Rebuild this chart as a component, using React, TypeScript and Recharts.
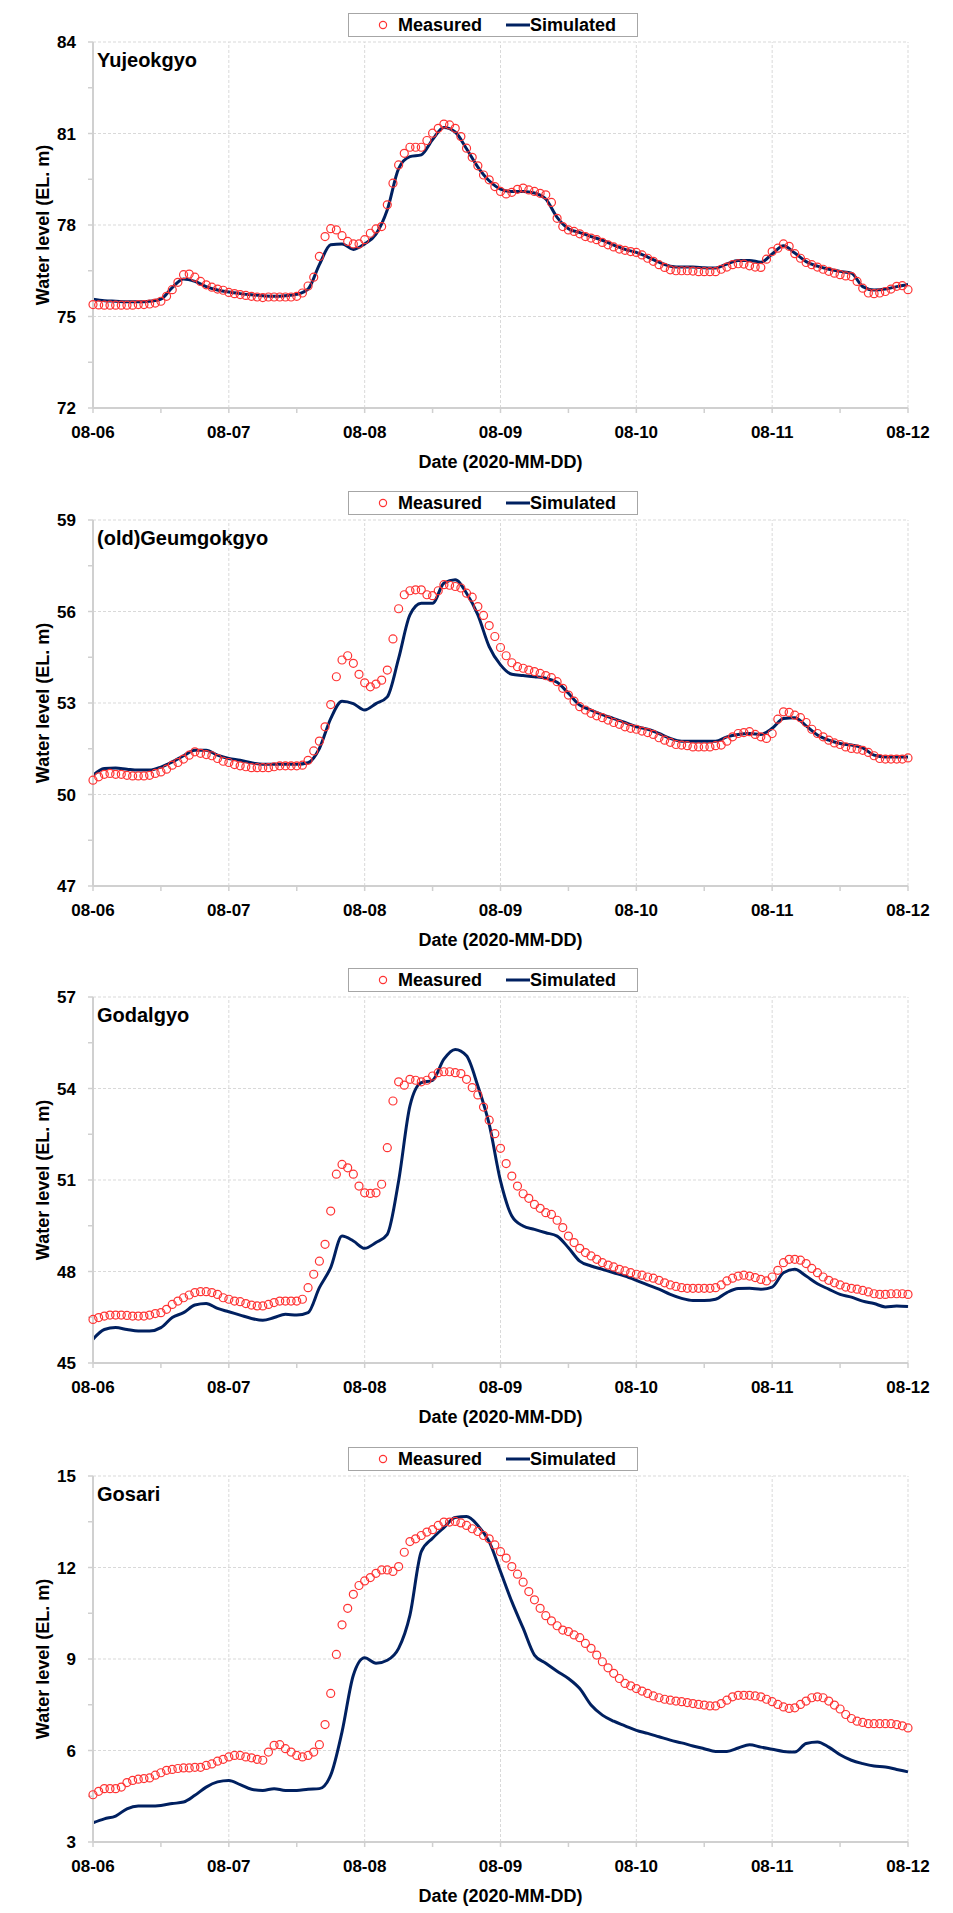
import React from 'react';
import { ComposedChart, Line, XAxis, YAxis, ReferenceLine, Legend, Label } from 'recharts';

// hourly time axis, 0 = 2020-08-06 00:00
const dayLabels = ['08-06', '08-07', '08-08', '08-09', '08-10', '08-11', '08-12'];
const hourTicks = [0, 12, 24, 36, 48, 60, 72, 84, 96, 108, 120, 132, 144];
const dayLines = [24, 48, 72, 96, 120, 144];

// measured: every hour (145 values), simulated: every 2 hours (73 values)
const yujeokgyoMeasured = [
  75.39, 75.38, 75.37, 75.37, 75.37, 75.37, 75.37, 75.37, 75.39, 75.39, 75.41, 75.44,
  75.50, 75.66, 75.88, 76.12, 76.37, 76.39, 76.29, 76.15, 76.04, 75.96, 75.90, 75.86,
  75.79, 75.75, 75.72, 75.69, 75.66, 75.64, 75.62, 75.64, 75.64, 75.64, 75.64, 75.64,
  75.66, 75.77, 76.00, 76.29, 76.97, 77.62, 77.88, 77.84, 77.65, 77.46, 77.38, 77.38,
  77.52, 77.73, 77.87, 77.95, 78.66, 79.37, 79.97, 80.35, 80.55, 80.55, 80.55, 80.77,
  81.01, 81.17, 81.31, 81.28, 81.17, 80.90, 80.52, 80.22, 79.94, 79.64, 79.48, 79.26,
  79.10, 79.02, 79.07, 79.17, 79.21, 79.15, 79.10, 79.04, 78.99, 78.74, 78.22, 77.95,
  77.84, 77.79, 77.71, 77.62, 77.57, 77.52, 77.43, 77.35, 77.28, 77.21, 77.17, 77.13,
  77.10, 77.02, 76.91, 76.81, 76.70, 76.61, 76.53, 76.50, 76.50, 76.50, 76.49, 76.47,
  76.47, 76.47, 76.47, 76.55, 76.62, 76.70, 76.73, 76.72, 76.66, 76.62, 76.61, 76.88,
  77.13, 77.24, 77.38, 77.30, 77.06, 76.91, 76.77, 76.70, 76.62, 76.55, 76.48, 76.42,
  76.37, 76.33, 76.31, 76.15, 75.93, 75.77, 75.75, 75.77, 75.82, 75.90, 75.99, 76.01,
  75.88,
];
const yujeokgyoSimulated = [
  75.57, 75.52, 75.50, 75.48, 75.48, 75.50, 75.57, 75.95, 76.23, 76.15, 75.98, 75.87,
  75.80, 75.75, 75.71, 75.68, 75.66, 75.68, 75.73, 75.90, 76.70, 77.35, 77.38, 77.20,
  77.38, 77.70, 78.50, 79.85, 80.24, 80.30, 80.80, 81.20, 81.05, 80.50, 79.90, 79.45,
  79.18, 79.10, 79.10, 79.05, 78.85, 78.25, 77.88, 77.75, 77.62, 77.50, 77.34, 77.20,
  77.10, 76.95, 76.78, 76.65, 76.62, 76.62, 76.60, 76.59, 76.72, 76.84, 76.84, 76.78,
  77.05, 77.32, 77.08, 76.80, 76.65, 76.55, 76.48, 76.42, 75.98, 75.87, 75.90, 75.98,
  76.05,
];
const yujeokgyoTicks = [72, 73.5, 75, 76.5, 78, 79.5, 81, 82.5, 84];

const geumgokgyoMeasured = [
  50.47, 50.58, 50.66, 50.69, 50.66, 50.66, 50.63, 50.61, 50.61, 50.61, 50.63, 50.69,
  50.74, 50.83, 50.96, 51.05, 51.16, 51.29, 51.40, 51.35, 51.31, 51.27, 51.18, 51.09,
  51.05, 50.98, 50.94, 50.91, 50.88, 50.88, 50.88, 50.88, 50.91, 50.94, 50.94, 50.94,
  50.94, 50.96, 51.12, 51.43, 51.75, 52.22, 52.95, 53.86, 54.41, 54.55, 54.30, 53.94,
  53.66, 53.53, 53.62, 53.75, 54.08, 55.10, 56.09, 56.55, 56.68, 56.71, 56.71, 56.55,
  56.52, 56.68, 56.88, 56.86, 56.82, 56.77, 56.60, 56.47, 56.16, 55.87, 55.54, 55.18,
  54.82, 54.55, 54.32, 54.19, 54.14, 54.08, 54.03, 53.97, 53.90, 53.83, 53.70, 53.48,
  53.26, 53.06, 52.88, 52.77, 52.66, 52.58, 52.52, 52.44, 52.36, 52.30, 52.22, 52.17,
  52.14, 52.08, 52.03, 51.97, 51.86, 51.78, 51.71, 51.64, 51.62, 51.60, 51.56, 51.56,
  51.56, 51.56, 51.60, 51.62, 51.75, 51.89, 52.00, 52.03, 52.06, 51.97, 51.89, 51.84,
  52.00, 52.47, 52.71, 52.69, 52.60, 52.52, 52.36, 52.14, 52.00, 51.89, 51.78, 51.69,
  51.64, 51.56, 51.51, 51.49, 51.45, 51.38, 51.27, 51.18, 51.16, 51.16, 51.16, 51.16,
  51.20,
];
const geumgokgyoSimulated = [
  50.63, 50.85, 50.87, 50.83, 50.80, 50.80, 50.90, 51.07, 51.27, 51.45, 51.45, 51.29,
  51.18, 51.12, 51.04, 50.99, 50.99, 50.99, 50.99, 51.04, 51.51, 52.49, 53.06, 52.98,
  52.77, 52.98, 53.20, 54.46, 55.89, 56.27, 56.27, 56.93, 57.04, 56.60, 55.89, 54.85,
  54.25, 53.94, 53.90, 53.86, 53.81, 53.68, 53.32, 52.93, 52.77, 52.62, 52.49, 52.36,
  52.22, 52.14, 52.00, 51.84, 51.75, 51.75, 51.75, 51.75, 51.89, 51.97, 52.00, 51.97,
  52.17, 52.49, 52.52, 52.25, 51.95, 51.78, 51.67, 51.62, 51.53, 51.29, 51.23, 51.23,
  51.23,
];
const geumgokgyoTicks = [47, 48.5, 50, 51.5, 53, 54.5, 56, 57.5, 59];

const godalgyoMeasured = [
  46.43, 46.49, 46.54, 46.57, 46.57, 46.57, 46.56, 46.54, 46.54, 46.54, 46.57, 46.62,
  46.65, 46.76, 46.92, 47.03, 47.14, 47.23, 47.31, 47.34, 47.34, 47.31, 47.25, 47.14,
  47.09, 47.03, 47.01, 46.95, 46.90, 46.87, 46.87, 46.92, 46.98, 47.03, 47.03, 47.03,
  47.03, 47.09, 47.47, 47.91, 48.34, 48.89, 49.98, 51.19, 51.51, 51.40, 51.19, 50.80,
  50.58, 50.56, 50.58, 50.86, 52.06, 53.59, 54.22, 54.11, 54.30, 54.27, 54.22, 54.27,
  54.41, 54.52, 54.55, 54.55, 54.52, 54.49, 54.30, 54.03, 53.79, 53.39, 52.96, 52.52,
  52.04, 51.54, 51.13, 50.80, 50.55, 50.40, 50.20, 50.07, 49.93, 49.87, 49.68, 49.44,
  49.16, 48.95, 48.76, 48.62, 48.51, 48.40, 48.29, 48.21, 48.15, 48.07, 48.02, 47.96,
  47.91, 47.88, 47.82, 47.78, 47.71, 47.63, 47.56, 47.51, 47.47, 47.45, 47.45, 47.45,
  47.45, 47.45, 47.47, 47.56, 47.69, 47.78, 47.85, 47.88, 47.85, 47.80, 47.74, 47.69,
  47.82, 48.04, 48.29, 48.40, 48.40, 48.37, 48.26, 48.10, 47.96, 47.82, 47.71, 47.63,
  47.56, 47.49, 47.45, 47.42, 47.38, 47.33, 47.27, 47.25, 47.25, 47.27, 47.27, 47.27,
  47.25,
];
const godalgyoSimulated = [
  45.78, 46.10, 46.16, 46.10, 46.05, 46.05, 46.16, 46.49, 46.65, 46.90, 46.95, 46.79,
  46.68, 46.57, 46.46, 46.40, 46.49, 46.60, 46.57, 46.65, 47.47, 48.13, 49.16, 49.00,
  48.76, 48.95, 49.22, 50.97, 53.43, 54.19, 54.27, 54.96, 55.28, 55.07, 54.08, 52.83,
  50.97, 49.82, 49.49, 49.38, 49.27, 49.16, 48.78, 48.34, 48.18, 48.07, 47.96, 47.85,
  47.71, 47.56, 47.42, 47.25, 47.12, 47.05, 47.05, 47.09, 47.31, 47.44, 47.45, 47.42,
  47.49, 47.96, 48.07, 47.85, 47.60, 47.42, 47.25, 47.16, 47.03, 46.95, 46.84, 46.87,
  46.85,
];
const godalgyoTicks = [45, 46.5, 48, 49.5, 51, 52.5, 54, 55.5, 57];

const gosariMeasured = [
  4.55, 4.66, 4.75, 4.75, 4.75, 4.80, 4.95, 5.02, 5.06, 5.08, 5.10, 5.19,
  5.27, 5.35, 5.38, 5.41, 5.43, 5.43, 5.45, 5.45, 5.51, 5.56, 5.65, 5.71,
  5.79, 5.84, 5.84, 5.79, 5.76, 5.71, 5.68, 5.95, 6.17, 6.19, 6.06, 5.95,
  5.84, 5.79, 5.84, 5.95, 6.19, 6.85, 7.87, 9.15, 10.12, 10.66, 11.12, 11.41,
  11.56, 11.67, 11.81, 11.92, 11.92, 11.87, 12.03, 12.50, 12.85, 12.94, 13.05, 13.16,
  13.24, 13.38, 13.49, 13.49, 13.51, 13.46, 13.38, 13.27, 13.18, 13.05, 12.94, 12.74,
  12.52, 12.31, 12.03, 11.78, 11.52, 11.21, 10.94, 10.66, 10.42, 10.25, 10.09, 9.95,
  9.90, 9.79, 9.70, 9.51, 9.35, 9.13, 8.91, 8.71, 8.53, 8.36, 8.20, 8.12,
  8.03, 7.95, 7.87, 7.79, 7.73, 7.68, 7.65, 7.62, 7.60, 7.57, 7.54, 7.51,
  7.49, 7.46, 7.46, 7.54, 7.65, 7.76, 7.81, 7.81, 7.81, 7.79, 7.76, 7.68,
  7.60, 7.51, 7.43, 7.38, 7.40, 7.51, 7.62, 7.73, 7.76, 7.73, 7.62, 7.49,
  7.36, 7.18, 7.05, 6.96, 6.92, 6.88, 6.88, 6.88, 6.88, 6.88, 6.85, 6.81,
  6.74,
];
const gosariSimulated = [
  3.63, 3.76, 3.85, 4.09, 4.18, 4.18, 4.20, 4.26, 4.31, 4.53, 4.80, 4.97,
  5.02, 4.88, 4.73, 4.69, 4.75, 4.69, 4.69, 4.73, 4.75, 5.19, 6.61, 8.47,
  9.04, 8.86, 8.96, 9.35, 10.44, 12.52, 12.96, 13.31, 13.64, 13.67, 13.38, 12.85,
  11.87, 10.88, 10.01, 9.13, 8.86, 8.60, 8.36, 8.03, 7.49, 7.16, 6.96, 6.81,
  6.66, 6.56, 6.45, 6.34, 6.25, 6.15, 6.06, 5.97, 5.97, 6.08, 6.19, 6.11,
  6.04, 5.97, 5.95, 6.23, 6.28, 6.11, 5.86, 5.68, 5.57, 5.49, 5.46, 5.38,
  5.30,
];
const gosariTicks = [3, 4.5, 6, 7.5, 9, 10.5, 12, 13.5, 15];

const FONT = "'Liberation Sans', Arial, sans-serif";
const RED = '#ff3333';
const NAVY = '#002060';
const AXIS = '#d0d0d0';
const GRID = '#d9d9d9';

const XTitle = (props: any) => {
  const vb = props.viewBox;
  return (
    <text x={vb.x + vb.width / 2} y={vb.y + 54} textAnchor="middle" dominantBaseline="central"
      fontFamily={FONT} fontWeight="bold" fontSize={18} fill="#000">
      Date (2020-MM-DD)
    </text>
  );
};

const YTitle = (props: any) => {
  const vb = props.viewBox;
  const x = 43;
  const y = vb.y + vb.height / 2;
  return (
    <text x={x} y={y} transform={`rotate(-90 ${x} ${y})`} textAnchor="middle" dominantBaseline="central"
      fontFamily={FONT} fontWeight="bold" fontSize={18} fill="#000">
      Water level (EL. m)
    </text>
  );
};

const LegendBox = ({ payload }: any) => (
  <div style={{
    width: 290, height: 24, boxSizing: 'border-box', border: '1px solid #a6a6a6', background: '#fff',
    display: 'flex', alignItems: 'center', fontFamily: FONT, fontWeight: 'bold', fontSize: 18, color: '#000',
  }}>
    {(payload || []).map((p: any) => p.type === 'circle' ? (
      <span key={p.value} style={{ display: 'flex', alignItems: 'center', marginLeft: 28 }}>
        <svg width={12} height={12}><circle cx={6} cy={6} r={3.6} fill="none" stroke={RED} strokeWidth={1.2} /></svg>
        <span style={{ marginLeft: 9 }}>{p.value}</span>
      </span>
    ) : (
      <span key={p.value} style={{ display: 'flex', alignItems: 'center', marginLeft: 24 }}>
        <svg width={24} height={12}><line x1={0} y1={6} x2={24} y2={6} stroke={NAVY} strokeWidth={3} /></svg>
        <span>{p.value}</span>
      </span>
    ))}
  </div>
);

function Panel({ name, measured, simulated, yTicks, top }: any) {
  const data = measured.map((m: number, i: number) => ({
    t: i,
    measured: m,
    simulated: i % 2 === 0 ? simulated[i / 2] : null,
  }));
  const yMin = yTicks[0];
  const yMax = yTicks[yTicks.length - 1];
  const isMajor = (v: number) => Number.isInteger(Math.round(((v - yMin) / 3) * 1000) / 1000);
  const majors = yTicks.filter((v: number) => isMajor(v) && v !== yMin);

  return (
    <div style={{ position: 'absolute', top, left: 0 }}>
      <ComposedChart width={953} height={478} data={data} margin={{ top: 18, right: 45, bottom: 10, left: 0 }}>
        {dayLines.map(d => (
          <ReferenceLine key={`x${d}`} x={d} stroke={GRID} strokeDasharray="3 2" strokeWidth={1} />
        ))}
        {majors.map((v: number) => (
          <ReferenceLine key={`y${v}`} y={v} stroke={GRID} strokeDasharray="3 2" strokeWidth={1} />
        ))}
        <XAxis
          type="number"
          dataKey="t"
          domain={[0, 144]}
          ticks={hourTicks}
          interval={0}
          tickFormatter={(t: number) => (t % 24 === 0 ? dayLabels[t / 24] : '')}
          tick={{ fontSize: 17, fontWeight: 'bold', fill: '#000', fontFamily: FONT }}
          tickSize={5}
          tickMargin={13}
          tickLine={{ stroke: AXIS, strokeWidth: 1.5 }}
          axisLine={{ stroke: AXIS, strokeWidth: 2 }}
          height={60}
        >
          <Label content={XTitle} />
        </XAxis>
        <YAxis
          type="number"
          domain={[yMin, yMax]}
          ticks={yTicks}
          interval={0}
          allowDataOverflow
          tickFormatter={(v: number) => (isMajor(v) ? String(v) : '')}
          tick={{ fontSize: 17, fontWeight: 'bold', fill: '#000', fontFamily: FONT }}
          tickSize={5}
          tickMargin={12}
          tickLine={{ stroke: AXIS, strokeWidth: 1.5 }}
          axisLine={{ stroke: AXIS, strokeWidth: 2 }}
          width={93}
        >
          <Label content={YTitle} />
        </YAxis>
        <Legend verticalAlign="top" content={LegendBox} wrapperStyle={{ top: 13, left: 348, width: 290 }} />
        <Line
          dataKey="measured"
          name="Measured"
          legendType="circle"
          stroke="none"
          dot={{ r: 4, fill: 'none', stroke: RED, strokeWidth: 1.2 }}
          activeDot={false}
          isAnimationActive={false}
        />
        <Line
          dataKey="simulated"
          name="Simulated"
          legendType="line"
          type="monotone"
          stroke={NAVY}
          strokeWidth={3}
          dot={false}
          activeDot={false}
          connectNulls
          isAnimationActive={false}
        />
        <text x={97} y={67} fontFamily={FONT} fontWeight="bold" fontSize={20} fill="#000">{name}</text>
      </ComposedChart>
    </div>
  );
}

export default function App() {
  return (
    <div style={{ position: 'relative', width: 953, height: 1913, background: '#fff' }}>
      <style>{'body{margin:0;background:#fff}'}</style>
      <Panel name="Yujeokgyo" measured={yujeokgyoMeasured} simulated={yujeokgyoSimulated} yTicks={yujeokgyoTicks} top={0} />
      <Panel name="(old)Geumgokgyo" measured={geumgokgyoMeasured} simulated={geumgokgyoSimulated} yTicks={geumgokgyoTicks} top={478} />
      <Panel name="Godalgyo" measured={godalgyoMeasured} simulated={godalgyoSimulated} yTicks={godalgyoTicks} top={955} />
      <Panel name="Gosari" measured={gosariMeasured} simulated={gosariSimulated} yTicks={gosariTicks} top={1434} />
    </div>
  );
}
